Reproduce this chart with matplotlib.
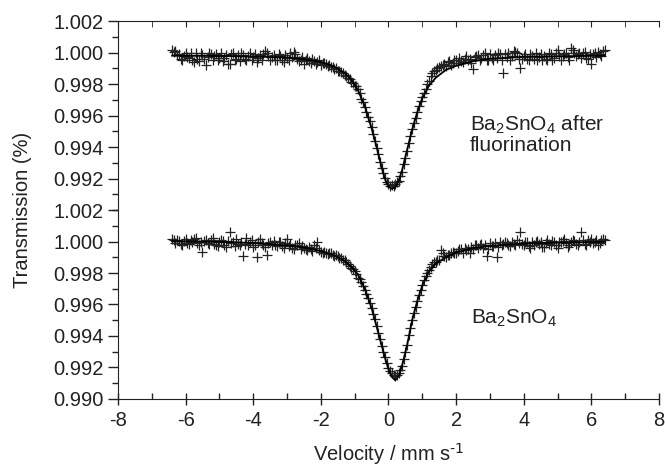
import matplotlib
matplotlib.use('Agg')
import matplotlib.pyplot as plt
from matplotlib.ticker import MultipleLocator, FormatStrFormatter

plt.rcParams['font.family'] = ['Liberation Sans', 'DejaVu Sans']
plt.rcParams['mathtext.default'] = 'regular'
plt.rcParams['axes.unicode_minus'] = False

# measured channels, mm/s
velocity = [
    -6.40, -6.35, -6.30, -6.25, -6.20, -6.15, -6.10, -6.05, -6.00, -5.95,
    -5.90, -5.85, -5.80, -5.75, -5.70, -5.65, -5.60, -5.55, -5.50, -5.45,
    -5.40, -5.35, -5.30, -5.25, -5.20, -5.15, -5.10, -5.05, -5.00, -4.95,
    -4.90, -4.85, -4.80, -4.75, -4.70, -4.65, -4.60, -4.55, -4.50, -4.45,
    -4.40, -4.35, -4.30, -4.25, -4.20, -4.15, -4.10, -4.05, -4.00, -3.95,
    -3.90, -3.85, -3.80, -3.75, -3.70, -3.65, -3.60, -3.55, -3.50, -3.45,
    -3.40, -3.35, -3.30, -3.25, -3.20, -3.15, -3.10, -3.05, -3.00, -2.95,
    -2.90, -2.85, -2.80, -2.75, -2.70, -2.65, -2.60, -2.55, -2.50, -2.45,
    -2.40, -2.35, -2.30, -2.25, -2.20, -2.15, -2.10, -2.05, -2.00, -1.95,
    -1.90, -1.85, -1.80, -1.75, -1.70, -1.65, -1.60, -1.55, -1.50, -1.45,
    -1.40, -1.35, -1.30, -1.25, -1.20, -1.15, -1.10, -1.05, -1.00, -0.95,
    -0.90, -0.85, -0.80, -0.75, -0.70, -0.65, -0.60, -0.55, -0.50, -0.45,
    -0.40, -0.35, -0.30, -0.25, -0.20, -0.15, -0.10, -0.05, 0.00, 0.05,
    0.10, 0.15, 0.20, 0.25, 0.30, 0.35, 0.40, 0.45, 0.50, 0.55,
    0.60, 0.65, 0.70, 0.75, 0.80, 0.85, 0.90, 0.95, 1.00, 1.05,
    1.10, 1.15, 1.20, 1.25, 1.30, 1.35, 1.40, 1.45, 1.50, 1.55,
    1.60, 1.65, 1.70, 1.75, 1.80, 1.85, 1.90, 1.95, 2.00, 2.05,
    2.10, 2.15, 2.20, 2.25, 2.30, 2.35, 2.40, 2.45, 2.50, 2.55,
    2.60, 2.65, 2.70, 2.75, 2.80, 2.85, 2.90, 2.95, 3.00, 3.05,
    3.10, 3.15, 3.20, 3.25, 3.30, 3.35, 3.40, 3.45, 3.50, 3.55,
    3.60, 3.65, 3.70, 3.75, 3.80, 3.85, 3.90, 3.95, 4.00, 4.05,
    4.10, 4.15, 4.20, 4.25, 4.30, 4.35, 4.40, 4.45, 4.50, 4.55,
    4.60, 4.65, 4.70, 4.75, 4.80, 4.85, 4.90, 4.95, 5.00, 5.05,
    5.10, 5.15, 5.20, 5.25, 5.30, 5.35, 5.40, 5.45, 5.50, 5.55,
    5.60, 5.65, 5.70, 5.75, 5.80, 5.85, 5.90, 5.95, 6.00, 6.05,
    6.10, 6.15, 6.20, 6.25, 6.30, 6.35, 6.40,
]

# Ba2SnO4 after fluorination (upper panel)
trans_fluor = [
    1.00015, 1.00005, 1.00010, 0.99985, 0.99990, 0.99960, 0.99950, 0.99980, 0.99995, 0.99970,
    0.99965, 1.00000, 0.99955, 0.99940, 0.99995, 0.99960, 0.99945, 0.99995, 0.99985, 0.99960,
    0.99918, 0.99970, 1.00000, 0.99990, 0.99955, 0.99975, 0.99990, 0.99950, 0.99965, 0.99995,
    0.99945, 0.99965, 0.99985, 0.99930, 0.99925, 0.99990, 0.99995, 0.99955, 0.99960, 0.99985,
    0.99945, 0.99995, 0.99985, 0.99960, 0.99950, 0.99980, 1.00000, 0.99955, 0.99970, 0.99990,
    0.99940, 0.99965, 0.99985, 0.99950, 0.99990, 1.00010, 1.00000, 0.99975, 0.99955, 0.99970,
    0.99985, 0.99955, 0.99950, 0.99990, 0.99980, 0.99950, 0.99940, 0.99985, 0.99965, 0.99950,
    0.99995, 0.99970, 1.00005, 0.99990, 0.99960, 0.99945, 0.99950, 0.99970, 0.99930, 0.99950,
    0.99965, 0.99945, 0.99935, 0.99960, 0.99945, 0.99930, 0.99940, 0.99950, 0.99920, 0.99935,
    0.99935, 0.99925, 0.99915, 0.99920, 0.99905, 0.99910, 0.99895, 0.99900, 0.99880, 0.99885,
    0.99875, 0.99870, 0.99860, 0.99848, 0.99840, 0.99830, 0.99815, 0.99805, 0.99790, 0.99785,
    0.99770, 0.99740, 0.99705, 0.99685, 0.99655, 0.99625, 0.99590, 0.99565, 0.99525, 0.99480,
    0.99440, 0.99395, 0.99355, 0.99305, 0.99265, 0.99235, 0.99205, 0.99180, 0.99165, 0.99155,
    0.99160, 0.99150, 0.99165, 0.99175, 0.99185, 0.99215, 0.99240, 0.99290, 0.99330, 0.99375,
    0.99425, 0.99470, 0.99515, 0.99550, 0.99585, 0.99625, 0.99660, 0.99690, 0.99720, 0.99745,
    0.99770, 0.99800, 0.99820, 0.99850, 0.99870, 0.99880, 0.99890, 0.99900, 0.99905, 0.99915,
    0.99920, 0.99930, 0.99915, 0.99940, 0.99945, 0.99920, 0.99935, 0.99950, 0.99955, 0.99935,
    0.99965, 0.99945, 0.99940, 0.99960, 0.99975, 0.99955, 0.99960, 0.99935, 0.99895, 0.99970,
    0.99975, 0.99985, 0.99950, 0.99965, 0.99985, 0.99995, 0.99955, 0.99955, 0.99990, 0.99965,
    0.99955, 0.99985, 0.99965, 1.00000, 0.99990, 0.99955, 0.99870, 0.99990, 0.99970, 0.99995,
    0.99955, 0.99980, 1.00012, 1.00005, 0.99995, 0.99960, 0.99900, 0.99960, 0.99980, 0.99990,
    0.99960, 0.99950, 0.99990, 0.99980, 0.99960, 0.99995, 0.99950, 0.99970, 0.99990, 0.99955,
    0.99980, 0.99960, 0.99955, 0.99995, 0.99990, 0.99955, 0.99965, 1.00000, 1.00015, 0.99975,
    0.99950, 0.99980, 0.99990, 1.00000, 0.99970, 0.99955, 1.00030, 1.00015, 0.99995, 0.99975,
    0.99990, 1.00000, 0.99965, 0.99995, 1.00005, 0.99965, 0.99960, 0.99990, 0.99930, 0.99990,
    0.99995, 0.99970, 1.00005, 0.99990, 0.99980, 1.00010, 1.00018,
]

# Ba2SnO4 (lower panel)
trans_pure = [
    1.00018, 1.00008, 0.99990, 1.00012, 1.00005, 0.99985, 0.99980, 1.00002, 1.00015, 0.99990,
    0.99985, 1.00010, 0.99995, 1.00015, 1.00025, 0.99990, 0.99975, 0.99995, 0.99935, 1.00005,
    1.00010, 0.99990, 0.99985, 1.00012, 1.00020, 0.99985, 0.99980, 0.99970, 1.00000, 1.00010,
    1.00005, 0.99980, 0.99965, 1.00005, 1.00058, 0.99990, 0.99995, 0.99970, 1.00015, 0.99985,
    0.99980, 1.00000, 0.99905, 0.99985, 1.00025, 0.99980, 1.00000, 1.00010, 0.99965, 0.99980,
    0.99903, 0.99995, 1.00015, 0.99990, 0.99980, 0.99965, 0.99912, 0.99990, 0.99995, 0.99975,
    1.00005, 0.99980, 0.99970, 0.99995, 0.99995, 0.99970, 0.99960, 0.99990, 1.00018, 0.99970,
    0.99985, 0.99960, 0.99955, 0.99975, 0.99980, 0.99990, 0.99950, 0.99972, 0.99960, 0.99950,
    0.99945, 0.99965, 0.99955, 0.99940, 0.99980, 0.99960, 0.99995, 0.99945, 0.99935, 0.99930,
    0.99935, 0.99930, 0.99920, 0.99928, 0.99925, 0.99915, 0.99910, 0.99912, 0.99905, 0.99898,
    0.99895, 0.99885, 0.99880, 0.99870, 0.99855, 0.99845, 0.99830, 0.99825, 0.99815, 0.99795,
    0.99770, 0.99760, 0.99745, 0.99720, 0.99690, 0.99665, 0.99640, 0.99610, 0.99575, 0.99540,
    0.99505, 0.99465, 0.99420, 0.99380, 0.99335, 0.99300, 0.99265, 0.99230, 0.99195, 0.99175,
    0.99165, 0.99150, 0.99145, 0.99150, 0.99165, 0.99185, 0.99210, 0.99255, 0.99300, 0.99345,
    0.99405, 0.99450, 0.99500, 0.99545, 0.99585, 0.99625, 0.99660, 0.99695, 0.99725, 0.99755,
    0.99780, 0.99800, 0.99820, 0.99840, 0.99860, 0.99868, 0.99870, 0.99880, 0.99885, 0.99945,
    0.99925, 0.99910, 0.99900, 0.99915, 0.99915, 0.99925, 0.99935, 0.99930, 0.99925, 0.99940,
    0.99950, 0.99955, 0.99925, 0.99960, 0.99945, 0.99950, 0.99930, 0.99965, 0.99955, 0.99975,
    0.99980, 0.99960, 0.99975, 0.99985, 0.99960, 0.99980, 0.99910, 0.99955, 0.99990, 0.99970,
    0.99970, 0.99990, 0.99903, 0.99965, 0.99995, 0.99975, 0.99985, 1.00000, 0.99990, 0.99980,
    0.99970, 0.99995, 0.99985, 0.99980, 1.00010, 0.99990, 1.00058, 0.99985, 0.99975, 1.00000,
    1.00000, 0.99970, 0.99960, 0.99995, 0.99980, 1.00000, 1.00005, 0.99985, 0.99995, 0.99965,
    0.99965, 0.99990, 1.00010, 0.99985, 0.99980, 1.00005, 1.00000, 0.99975, 0.99960, 0.99995,
    0.99995, 1.00005, 1.00015, 0.99990, 0.99965, 0.99980, 1.00000, 1.00010, 1.00005, 0.99985,
    0.99975, 1.00000, 1.00058, 1.00010, 0.99985, 0.99980, 1.00010, 0.99995, 1.00015, 0.99990,
    1.00000, 1.00010, 0.99980, 0.99990, 1.00010, 1.00015, 1.00012,
]

# fitted curves
fit_v = [-6.4, -5.0, -4.0, -3.0, -2.5, -2.0, -1.6, -1.3, -1.1, -0.9, -0.7, -0.5, -0.35,
         -0.2, -0.1, 0.0, 0.1, 0.2, 0.3, 0.4, 0.55, 0.7, 0.85, 1.0, 1.2, 1.4, 1.7,
         2.0, 2.5, 3.0, 4.0, 5.0, 6.4]
fit_fluor = [0.99980, 0.99978, 0.99975, 0.99968, 0.99958, 0.99940, 0.99910, 0.99870,
             0.99830, 0.99760, 0.99660, 0.99520, 0.99400, 0.99270, 0.99195, 0.99150,
             0.99135, 0.99145, 0.99185, 0.99250, 0.99380, 0.99510, 0.99620, 0.99710,
             0.99790, 0.99840, 0.99890, 0.99915, 0.99945, 0.99960, 0.99972, 0.99976, 0.99980]
fit_pure = [1.00002, 0.99998, 0.99990, 0.99975, 0.99962, 0.99940, 0.99912, 0.99878,
            0.99840, 0.99790, 0.99700, 0.99580, 0.99460, 0.99340, 0.99260, 0.99190,
            0.99140, 0.99120, 0.99145, 0.99210, 0.99340, 0.99500, 0.99620, 0.99720,
            0.99810, 0.99860, 0.99900, 0.99930, 0.99958, 0.99972, 0.99987, 0.99993, 0.99998]

fs = 14.5
ink = '#222222'
fig = plt.figure(figsize=(6.65, 4.69), dpi=100)
ax_top = fig.add_axes([0.1774, 0.5522, 0.8135, 0.4030])
ax_bot = fig.add_axes([0.1774, 0.1493, 0.8135, 0.4029])

for ax, data, fit in [(ax_top, trans_fluor, fit_fluor), (ax_bot, trans_pure, fit_pure)]:
    ax.plot(velocity, data, '+', color=ink, ms=6.5, mew=0.9)
    ax.plot(fit_v, fit, '-', color='black', lw=1.3)
    ax.set_xlim(-8, 8)
    ax.set_ylim(0.990, 1.002)
    ax.spines['right'].set_visible(False)
    ax.yaxis.set_major_locator(MultipleLocator(0.002))
    ax.yaxis.set_minor_locator(MultipleLocator(0.001))
    ax.yaxis.set_major_formatter(FormatStrFormatter('%.3f'))
    ax.tick_params(axis='y', which='major', direction='out', length=7, width=1,
                   labelsize=fs, pad=3, right=False, colors=ink)
    ax.tick_params(axis='y', which='minor', direction='out', length=4, width=1,
                   right=False, colors=ink)
    ax.xaxis.set_major_locator(MultipleLocator(2))
    ax.xaxis.set_minor_locator(MultipleLocator(1))
    for s in ax.spines.values():
        s.set_color(ink)

# upper panel: ticks along the top edge only, no bottom spine
ax_top.spines['bottom'].set_visible(False)
ax_top.set_yticks([0.992, 0.994, 0.996, 0.998, 1.000, 1.002])
ax_top.tick_params(axis='x', which='both', direction='in', length=4, top=True,
                   bottom=False, labelbottom=False, colors=ink)

# lower panel
ax_bot.spines['top'].set_visible(False)
ax_bot.tick_params(axis='x', which='major', direction='inout', length=8, width=1,
                   labelsize=fs, pad=5, top=False, colors=ink)
ax_bot.tick_params(axis='x', which='minor', direction='in', length=4, width=1,
                   top=False, colors=ink)
ax_bot.set_xlabel('Velocity / mm s$^{\\text{-1}}$', fontsize=fs, color=ink, labelpad=8)

fig.text(0.034, 0.5522, 'Transmission (%)', rotation=90,
         fontsize=fs, color=ink, ha='center', va='center')

ax_top.text(2.4, 0.9948, 'Ba$_2$SnO$_4$ after\nfluorination', fontsize=15,
            color=ink, ha='left', va='center', linespacing=1.05)
ax_bot.text(2.45, 0.9951, 'Ba$_2$SnO$_4$', fontsize=15, color=ink,
            ha='left', va='center')

fig.savefig('out.png', dpi=100)
